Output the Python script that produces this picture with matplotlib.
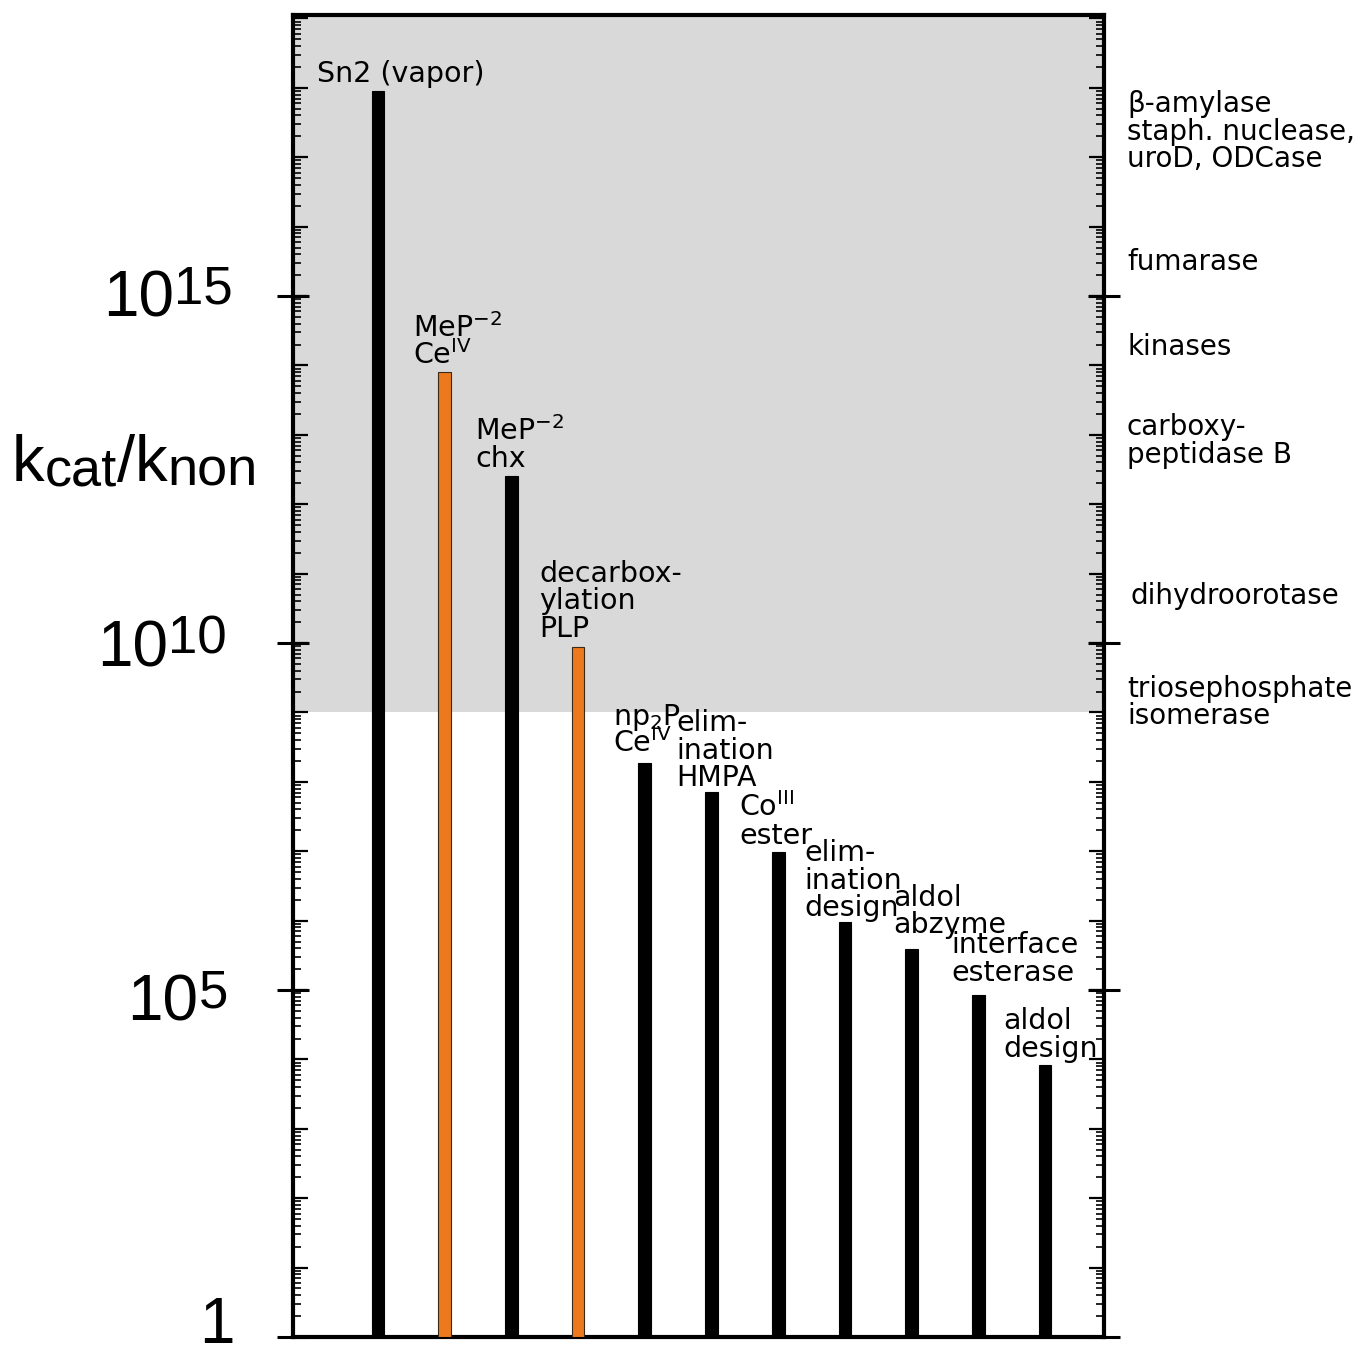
import numpy as np
import matplotlib
matplotlib.use("Agg")
import matplotlib.pyplot as plt
from matplotlib.ticker import FixedLocator, LogLocator, NullFormatter, NullLocator

# catalysts (bars), log10 of kcat/knon
catalysts = ["Sn2 (vapor)",
             "MeP$^{-2}$\nCe$^{\\rm IV}$",
             "MeP$^{-2}$\nchx",
             "decarbox-\nylation\nPLP",
             "np$_2$P\nCe$^{\\rm IV}$",
             "elim-\nination\nHMPA",
             "Co$^{\\rm III}$\nester",
             "elim-\nination\ndesign",
             "aldol\nabzyme",
             "interface\nesterase",
             "aldol\ndesign"]
log_rate = [17.95, 13.9, 12.4, 9.95, 8.27, 7.85, 6.99, 5.98, 5.59, 4.93, 3.92]
metal = [False, True, False, True, False, False, False, False, False, False, False]

# enzymes on the right side
enzymes = ["β-amylase\nstaph. nuclease,\nuroD, ODCase", "fumarase", "kinases",
           "carboxy-\npeptidase B", "dihydroorotase", "triosephosphate\nisomerase"]
enzyme_log = [17.35, 15.48, 14.25, 12.9, 10.66, 9.13]

major_exp = [0, 5, 10, 15]
shade_from = 9
y_top = 19.05

# layout (pixels)
label_dx = [-61, -32, -36, -39, -32, -35, -39, -41, -18, -27, -42]
label_dy = [9, 8, 9, 10, 11, 6, 8, 6, 16, 14, 8]
line_step = 27.5
base_dy = [-6, -30, -23, -20]
exp_right = [-58, -65, -66, -60]

W, H = 1356, 1355
fig = plt.figure(figsize=(W / 100, H / 100), dpi=100)
ax = fig.add_axes([293 / W, 1 - 1337 / H, (1104 - 293) / W, (1337 - 15) / H])
renderer = fig.canvas.get_renderer()

x = np.arange(len(log_rate))
vals = 10.0 ** np.array(log_rate)
colors = ["#ec7a1c" if m else "black" for m in metal]
edges = ["#3a2a1a" if m else "black" for m in metal]
ax.bar(x, vals - 1, bottom=1, width=0.19, color=colors, edgecolor=edges, linewidth=0.8, zorder=3)

ax.set_yscale("log")
ax.set_ylim(1, 10 ** y_top)
ax.set_xlim(-1.275, 10.885)
ax.axhspan(10 ** shade_from, 10 ** y_top, color="#d9d9d9", lw=0, zorder=0)

# crossing ticks at 1, 1e5, 1e10, 1e15
tw = ax.twinx()
tw.set_yscale("log")
tw.set_ylim(ax.get_ylim())
tw.yaxis.set_major_locator(FixedLocator([10.0 ** e for e in major_exp]))
tw.yaxis.set_minor_locator(NullLocator())
tw.yaxis.set_major_formatter(NullFormatter())
tw.tick_params(axis="y", which="major", direction="inout", length=23, width=2.2,
               left=True, right=True, labelleft=False, labelright=False)
for s in tw.spines.values():
    s.set_visible(False)

for s in ax.spines.values():
    s.set_linewidth(3.0)
ax.xaxis.set_major_locator(NullLocator())
ax.xaxis.set_minor_locator(NullLocator())
ax.yaxis.set_major_locator(LogLocator(base=10, numticks=40))
ax.yaxis.set_minor_locator(LogLocator(base=10, subs=np.arange(2, 10), numticks=40))
ax.yaxis.set_major_formatter(NullFormatter())
ax.yaxis.set_minor_formatter(NullFormatter())
ax.tick_params(axis="y", which="major", direction="in", length=10.5, width=1.6,
               left=True, right=True, labelleft=False, labelright=False)
ax.tick_params(axis="y", which="minor", direction="in", length=5.5, width=1.2,
               left=True, right=True)

# left tick labels, "10" with raised exponent
lab_font = "Liberation Sans"
for e, bdy, xr in zip(major_exp, base_dy, exp_right):
    if e == 0:
        ax.annotate("1", xy=(0, 1), xycoords=("axes fraction", "data"),
                    xytext=(xr, bdy), textcoords="offset pixels",
                    ha="right", va="baseline", fontsize=46, family=lab_font,
                    annotation_clip=False)
        continue
    t = ax.annotate(str(e), xy=(0, 10.0 ** e), xycoords=("axes fraction", "data"),
                    xytext=(xr, bdy + 13), textcoords="offset pixels",
                    ha="right", va="baseline", fontsize=38, family=lab_font)
    w = t.get_window_extent(renderer).width
    ax.annotate("10", xy=(0, 10.0 ** e), xycoords=("axes fraction", "data"),
                xytext=(xr - w, bdy), textcoords="offset pixels",
                ha="right", va="baseline", fontsize=46, family=lab_font)

# y label kcat/knon built from runs
px, py = 12, 481
for s, fs, dy in [("k", 47, 0), ("cat", 39, -4), ("/", 47, 0), ("k", 47, 0), ("non", 39, -4)]:
    t = fig.text(px / W, 1 - (py - dy) / H, s, fontsize=fs, family=lab_font,
                 ha="left", va="baseline")
    px += t.get_window_extent(renderer).width

# bar labels, one text per line
for xi, v, lab, dx, dy in zip(x, vals, catalysts, label_dx, label_dy):
    lines = lab.split("\n")
    n = len(lines)
    for i, ln in enumerate(lines):
        ax.annotate(ln, xy=(xi, v), xytext=(dx, dy + (n - 1 - i) * line_step),
                    textcoords="offset pixels", ha="left", va="baseline",
                    fontsize=20.5, family="DejaVu Sans", zorder=4)

# enzyme labels on the right
for lab, lv in zip(enzymes, enzyme_log):
    lines = lab.split("\n")
    n = len(lines)
    for i, ln in enumerate(lines):
        off = -((i - (n - 1) / 2) * line_step + 7)
        xo = 26 if lab == "dihydroorotase" else 23
        ax.annotate(ln, xy=(1, 10.0 ** lv), xycoords=("axes fraction", "data"),
                    xytext=(xo, off), textcoords="offset pixels",
                    ha="left", va="baseline", fontsize=20, family="DejaVu Sans",
                    annotation_clip=False)

fig.savefig("out.png", dpi=100)
